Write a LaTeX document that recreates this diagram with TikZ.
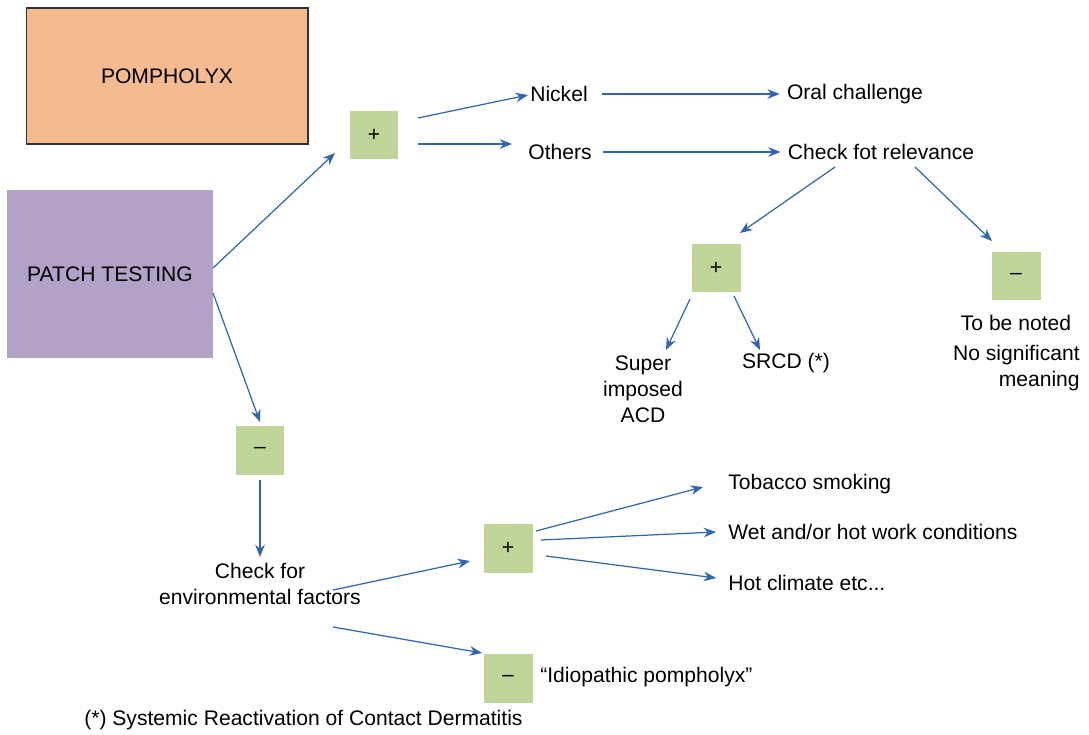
\documentclass[tikz,border=0pt]{standalone}
\usepackage{fontspec}
\setmainfont{Liberation Sans}
\usetikzlibrary{arrows.meta,calc}

\definecolor{peach}{HTML}{F4BA90}
\definecolor{lavender}{HTML}{B3A2C7}
\definecolor{leaf}{HTML}{C0D59A}
\definecolor{linkblue}{HTML}{2F65B1}

\begin{document}
\begin{tikzpicture}[x=0.02cm,y=-0.02cm,
  font=\fontsize{12}{14.7}\selectfont,
  main node/.style={rectangle,inner sep=0pt},
  sign node/.style={rectangle,fill=leaf,minimum size=0.98cm,inner sep=0pt},
  text node/.style={inner sep=0pt,align=center},
  link/.style={draw=linkblue,line width=0.7pt,-{Stealth[length=7pt,width=5.5pt]}}]

  \useasboundingbox (0,0) rectangle (1089,734);

  \node[main node,fill=peach,draw=black!80,line width=0.6pt,
        minimum width=5.64cm,minimum height=2.72cm] (pom) at (167,76) {POMPHOLYX};
  \node[main node,fill=lavender,minimum width=4.14cm,minimum height=3.36cm] (pt) at (110,274) {PATCH TESTING};

  % positive branch
  \node[sign node] (p1) at (374,135) {+};
  \node[text node] (nickel) at (559,94) {Nickel};
  \node[text node] (others) at (560,152) {Others};
  \node[text node] (oral) at (855,94) {Oral challenge};
  \node[text node] (check) at (881,152) {Check fot relevance};
  \node[sign node] (p2) at (716,268) {+};
  \node[sign node] (m2) at (1016,276) {\textendash};
  \node[text node] (noted) at (1016,323) {To be noted};
  \node[text node,align=right,anchor=east] (nosig) at (1080,368) {No significant\\meaning};
  \node[text node] (super) at (643,389) {Super\\imposed\\ACD};
  \node[text node] (srcd) at (786,363) {SRCD (*)};

  % negative branch
  \node[sign node] (m1) at (260,450) {\textendash};
  \node[text node] (env) at (260,584) {Check for\\environmental factors};
  \node[sign node] (p3) at (508,548) {+};
  \node[sign node] (m3) at (508,678) {\textendash};
  \node[text node,anchor=west] (idio) at (540,677) {“Idiopathic pompholyx”};
  \node[text node,anchor=west] (tob) at (728,484) {Tobacco smoking};
  \node[text node,anchor=west] (wet) at (728,532) {Wet and/or hot work conditions};
  \node[text node,anchor=west] (hot) at (728,583) {Hot climate etc...};

  \node[text node,anchor=west] (note) at (84,720) {(*) Systemic Reactivation of Contact Dermatitis};

  \draw[link] ($(pt)+(103,-6)$) -- ($(p1)+(-39,18)$);
  \draw[link] ($(pt)+(103,19)$) -- ($(m1)+(0,-28)$);
  \draw[link] ($(p1)+(44,-17)$) -- ($(nickel.west)+(-2,1)$);
  \draw[link] ($(p1)+(44,9)$) -- ($(others.west)+(-16,-8)$);
  \draw[link] ($(nickel.east)+(14,0)$) -- ($(oral.west)+(-7,0)$);
  \draw[link] ($(others.east)+(11,0)$) -- ($(check.west)+(-7,0)$);
  \draw[link] ($(check)+(-46,15)$) -- ($(p2)+(24,-35)$);
  \draw[link] ($(check)+(34,15)$) -- ($(m2)+(-24,-35)$);
  \draw[link] ($(p2)+(-26,31)$) -- ($(super)+(23,-39)$);
  \draw[link] ($(p2)+(18,28)$) -- ($(srcd)+(-26,-13)$);
  \draw[link] ($(m1)+(0,30)$) -- ($(env)+(0,-27)$);
  \draw[link] ($(env)+(73,6)$) -- ($(p3)+(-38,13)$);
  \draw[link] ($(env)+(73,43)$) -- ($(m3)+(-26,-25)$);
  \draw[link] ($(p3)+(28,-17)$) -- ($(tob.west)+(-25,3)$);
  \draw[link] ($(p3)+(33,-8)$) -- ($(wet.west)+(-12,0)$);
  \draw[link] ($(p3)+(38,8)$) -- ($(hot.west)+(-12,-5)$);

\end{tikzpicture}
\end{document}
